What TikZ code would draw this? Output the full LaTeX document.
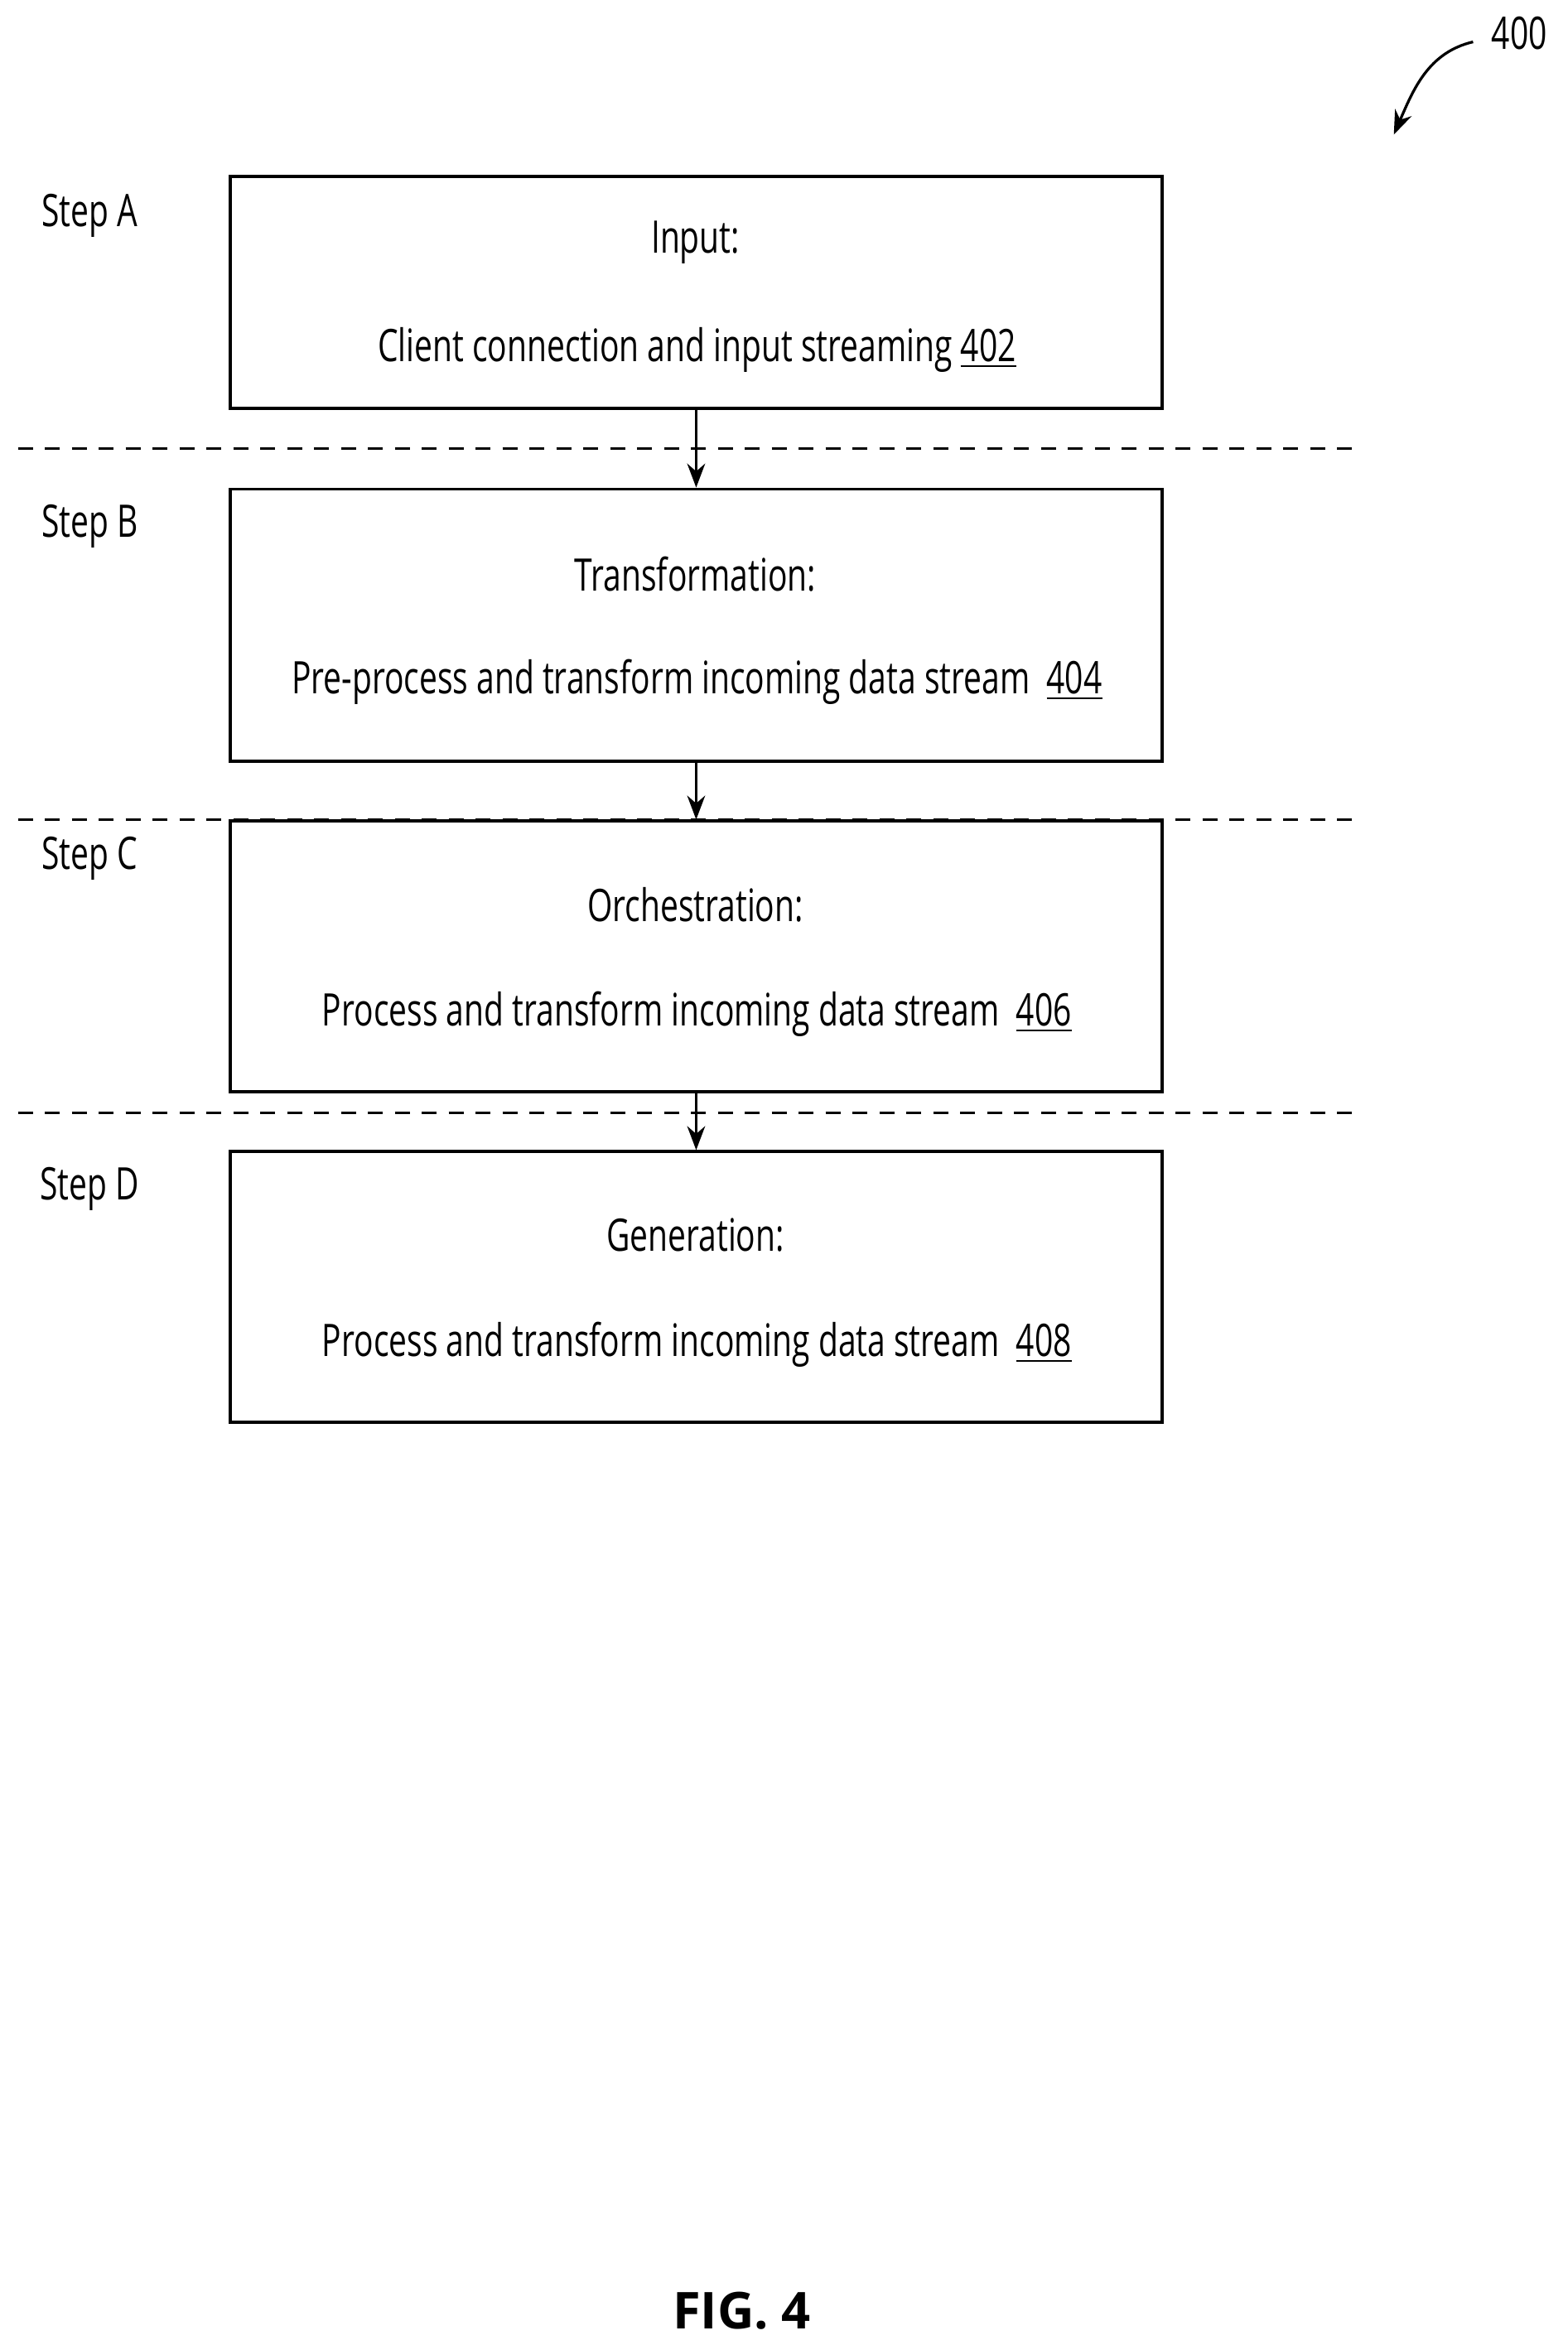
\documentclass[tikz,border=0pt]{standalone}
\usepackage{fontspec}
\setmainfont[FakeStretch=0.72]{Open Sans}
\newfontfamily\figfont{Open Sans}
\usetikzlibrary{arrows.meta}
\begin{document}
\begin{tikzpicture}[x=0.5pt,y=-0.5pt,
 box/.style={draw,line width=1pt},
 t/.style={font=\fontsize{15}{18}\selectfont,anchor=center,inner sep=0},
 sepline/.style={line width=0.9pt,dash pattern=on 5pt off 4pt},
 arr/.style={-{Stealth[length=8pt,width=6pt]},line width=0.9pt}]
\useasboundingbox (0,0) rectangle (1048,1568);
\node[box,minimum width=311.5pt,minimum height=77.5pt] (a) at (465.5,195.5) {};
\node[box,minimum width=311.5pt,minimum height=91pt] (b) at (465.5,418) {};
\node[box,minimum width=311.5pt,minimum height=90.5pt] (c) at (465.5,639.5) {};
\node[box,minimum width=311.5pt,minimum height=90.5pt] (d) at (465.5,860.5) {};
\coordinate (l1) at (12,300); \coordinate (r1) at (905,300);
\coordinate (l2) at (12,548); \coordinate (r2) at (905,548);
\coordinate (l3) at (12,744); \coordinate (r3) at (905,744);
\draw[sepline] (l1) -- (r1);
\draw[sepline] (l2) -- (r2);
\draw[sepline] (l3) -- (r3);
\draw[arr] (a.south) -- (b.north);
\draw[arr] (b.south) -- (c.north);
\draw[arr] (c.south) -- (d.north);
\node[t] (sa) at (60,144) {Step A};
\node[t] (sb) at (60,352) {Step B};
\node[t] (sc) at (60,574) {Step C};
\node[t] (sd) at (60,795) {Step D};
\node[t] (a1) at (465,162) {Input:};
\node[t] (a2) at (466,234) {Client connection and input streaming \underline{402}};
\node[t] (b1) at (465,384) {Transformation:};
\node[t] (b2) at (466,456) {Pre-process and transform incoming data stream\ \ \underline{404}};
\node[t] (c1) at (465,605) {Orchestration:};
\node[t] (c2) at (466,678) {Process and transform incoming data stream\ \ \underline{406}};
\node[t] (d1) at (465,826) {Generation:};
\node[t] (d2) at (466,899) {Process and transform incoming data stream\ \ \underline{408}};
\node[t] (n400) at (1016,22) {400};
\coordinate (p) at (985,28);
\coordinate (q) at (932,90);
\draw[arr] (p) .. controls (955,35) and (945,60) .. (q);
\node[inner sep=0,font=\figfont\fontsize{17}{20}\selectfont\bfseries] (fig) at (496,1545) {FIG. 4};
\end{tikzpicture}
\end{document}
